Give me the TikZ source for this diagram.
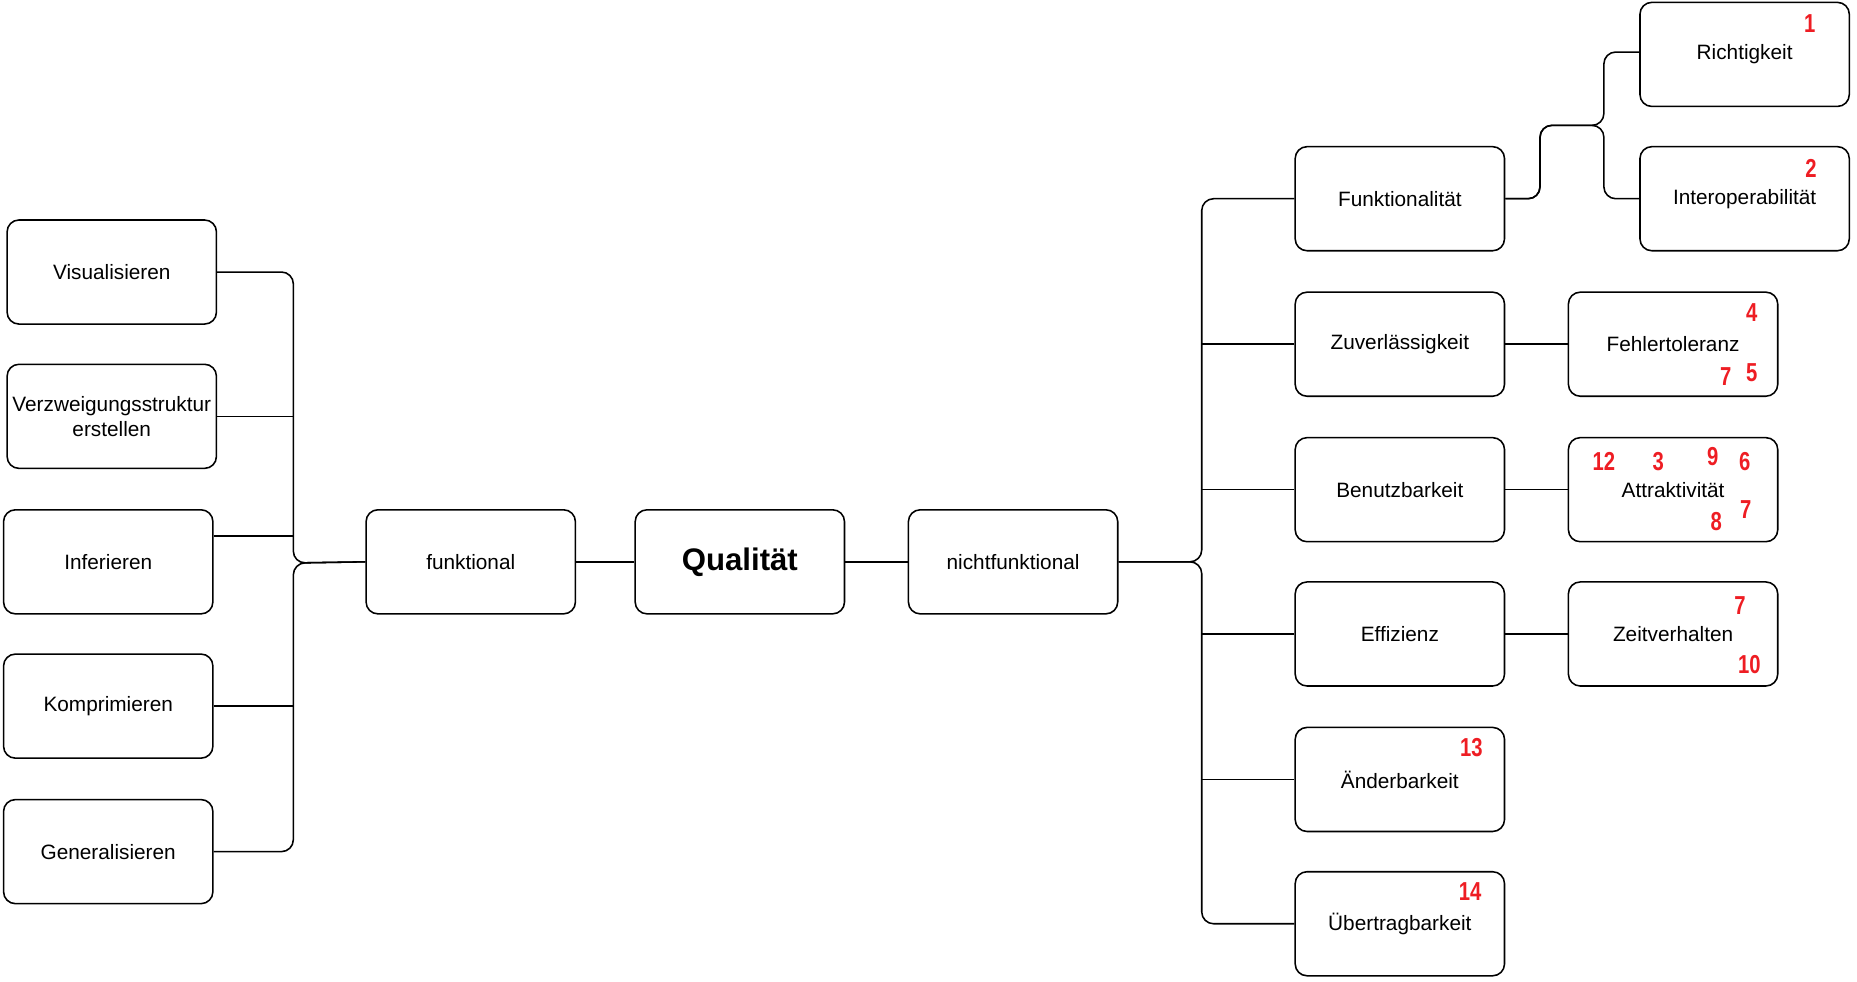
\documentclass[tikz,border=0pt]{standalone}
\usepackage{fontspec}
\setmainfont{Liberation Sans}
\newfontfamily\numfont[FakeStretch=0.78]{Liberation Sans}
\definecolor{numred}{HTML}{EE1D23}
\tikzset{
  box/.style={draw, line width=0.75pt, rounded corners=0.2cm, minimum width=3.54cm,
    minimum height=1.76cm, inner sep=1pt, align=center},
  link/.style={line width=0.75pt, rounded corners=0.2cm},
  num/.style={text=numred, inner sep=0pt, font=\numfont\bfseries\fontsize{12.5}{14}\selectfont},
}

\begin{document}
\begin{tikzpicture}[x=0.02cm,y=-0.02cm]
  \useasboundingbox (0,0) rectangle (1570,830);

  %%%%% MITTE %%%%%
  \node[box] (qual) at (625.5,475) {\bfseries\fontsize{15}{18}\selectfont Qualität};
  \node[box] (funk) at (398,475) {funktional};
  \node[box] (nf) at (856.5,475) {nichtfunktional};

  %%%%% LINKS %%%%%
  \node[box] (vis) at (94.5,230) {Visualisieren};
  \node[box] (verz) at (94.5,352) {Verzweigungsstruktur\\erstellen};
  \node[box] (inf) at (91.5,475) {Inferieren};
  \node[box] (komp) at (91.5,597) {Komprimieren};
  \node[box] (gen) at (91.5,720) {Generalisieren};

  %%%%% RECHTS %%%%%
  \node[box] (funkt) at (1183.5,168) {Funktionalität};
  \node[box] (zuv) at (1183.5,291) {Zuverlässigkeit};
  \node[box] (ben) at (1183.5,414) {Benutzbarkeit};
  \node[box] (eff) at (1183.5,536) {Effizienz};
  \node[box] (aend) at (1183.5,659) {Änderbarkeit};
  \node[box] (uebt) at (1183.5,781) {Übertragbarkeit};

  \node[box] (richt) at (1475,46) {Richtigkeit};
  \node[box] (inter) at (1475,168) {Interoperabilität};
  \node[box] (fehl) at (1414.5,291) {Fehlertoleranz};
  \node[box] (attr) at (1414.5,414) {Attraktivität};
  \node[box] (zeit) at (1414.5,536) {Zeitverhalten};

  %%%%% VERBINDUNGEN %%%%%
  \coordinate (lbus) at (248,476);
  \coordinate (rbus) at (1016,477);
  \coordinate (fjoin) at (1302,106);
  \coordinate (fsplit) at (1356,106);

  \draw[link] (funk) -- (qual);
  \draw[link] (qual) -- (nf);

  \draw[link] (vis.east) -| (lbus) -- (funk.west);
  \draw[link] (gen.east) -| (lbus) -- (funk.west);
  \draw[link] (verz.east) -- (verz.east -| lbus);
  \draw[link] ([yshift=0.44cm]inf.east) -- ([yshift=0.44cm]inf.east -| lbus);
  \draw[link] (komp.east) -- (komp.east -| lbus);

  \draw[link] (nf.east) -| (rbus |- funkt.west) -- (funkt.west);
  \draw[link] (nf.east) -| (rbus |- uebt.west) -- (uebt.west);
  \draw[link] (zuv.west) -- (zuv.west -| rbus);
  \draw[link] (ben.west) -- (ben.west -| rbus);
  \draw[link] (eff.west) -- (eff.west -| rbus);
  \draw[link] (aend.west) -- (aend.west -| rbus);

  \draw[link] (funkt.east) -| (fjoin) -- (fsplit) |- ([yshift=0.04cm]richt.west);
  \draw[link] (funkt.east) -| (fjoin) -- (fsplit) |- (inter.west);
  \draw[link] (zuv) -- (fehl);
  \draw[link] (ben) -- (attr);
  \draw[link] (eff) -- (zeit);

  %%%%% NUMMERN %%%%%
  \foreach \x/\y/\t [count=\i] in {1530/20/1, 1531/142/2, 1481/264/4, 1459/318/7,
      1481/315/5, 1356/390/12, 1402/390/3, 1448/386/9, 1475/390/6, 1476/431/7,
      1451/441/8, 1471/512/7, 1479/562/10, 1244/632/13, 1243/754/14}
    \node[num] (num\i) at (\x,\y) {\t};
\end{tikzpicture}
\end{document}
